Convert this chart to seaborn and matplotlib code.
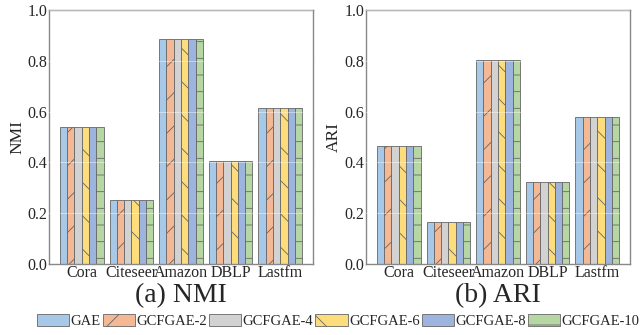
import numpy as np
import pandas as pd
import matplotlib
matplotlib.use("Agg")
import matplotlib.pyplot as plt
import seaborn as sns
from matplotlib.patches import Patch

datasets = ["Cora", "Citeseer", "Amazon", "DBLP", "Lastfm"]
methods = ["GAE", "GCFGAE-2", "GCFGAE-4", "GCFGAE-6", "GCFGAE-8", "GCFGAE-10"]
nmi = [0.540, 0.253, 0.886, 0.404, 0.614]
ari = [0.463, 0.167, 0.802, 0.322, 0.577]

colors = ["#a8c8e8", "#f4b894", "#d2d2d2", "#fddc7c", "#9cb4de", "#b6d7a3"]
hatches = ["", "/", "", "\\", "", "-"]

sns.set_theme(style="white")
plt.rcParams["font.family"] = ["Liberation Serif", "DejaVu Serif"]
plt.rcParams["hatch.linewidth"] = 0.6
plt.rcParams["hatch.color"] = "#555555"


def make_df(vals):
    rows = []
    for d, v in zip(datasets, vals):
        for m in methods:
            rows.append({"dataset": d, "method": m, "value": v})
    return pd.DataFrame(rows)


W, H = 642, 335
fig = plt.figure(figsize=(6.42, 3.35), dpi=100)
ax_a = fig.add_axes([49 / W, 1 - 264 / H, 264 / W, 254 / H])
ax_b = fig.add_axes([366 / W, 1 - 264 / H, 264 / W, 254 / H])
panels = [(ax_a, nmi, "NMI", "(a) NMI"), (ax_b, ari, "ARI", "(b) ARI")]
for ax, vals, ylab, xlab in panels:
    df = make_df(vals)
    sns.barplot(data=df, x="dataset", y="value", hue="method",
                hue_order=methods, palette=colors, width=0.88,
                ax=ax, legend=False, edgecolor="#666666", linewidth=0.6,
                saturation=1)
    for i, cont in enumerate(ax.containers):
        for bar in cont:
            bar.set_hatch(hatches[i])
            bar.set_edgecolor("#666666")
    ax.set_ylim(0, 1.0)
    ax.set_xlim(-0.66, 4.66)
    ax.set_yticks([0, 0.2, 0.4, 0.6, 0.8, 1.0])
    ax.set_yticklabels(["0.0", "0.2", "0.4", "0.6", "0.8", "1.0"])
    ax.yaxis.grid(True, color="white", lw=0.6, alpha=0.5, zorder=5)
    ax.set_axisbelow(False)
    ax.tick_params(axis="both", labelsize=11.5, pad=1, length=0)
    ax.set_ylabel(ylab, fontsize=12.5, labelpad=2)
    ax.set_xlabel(xlab, fontsize=20, labelpad=1)
    for s in ax.spines.values():
        s.set_color("#888888")
        s.set_linewidth(1.0)

handles = [Patch(facecolor=c, edgecolor="#666666", hatch=h, lw=0.6)
           for c, h in zip(colors, hatches)]
fig.legend(handles, methods, loc="lower center", ncol=6, frameon=False,
           fontsize=10.5, handlelength=2.2, handleheight=0.85,
           handletextpad=0.1, columnspacing=0.15,
           bbox_to_anchor=(0.527, -0.018))

fig.savefig("out.png", dpi=100)
